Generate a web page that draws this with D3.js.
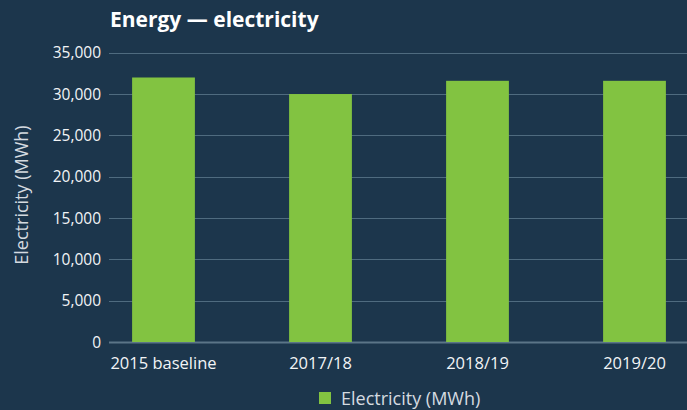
<!DOCTYPE html>
<html><head><meta charset="utf-8">
<script src="https://cdn.jsdelivr.net/npm/d3@7"></script>
<style>
html,body{margin:0;padding:0;background:#1c364c;}
svg{display:block;font-family:"Open Sans",sans-serif;}
</style></head><body>
<svg id="c" width="687" height="410"></svg>
<script>
const categories = ["2015 baseline","2017/18","2018/19","2019/20"];
const values = [32000, 30000, 31600, 31600];
const yTicks = [0,5000,10000,15000,20000,25000,30000,35000];
const seriesName = "Electricity (MWh)";
const title = "Energy — electricity";

const svg = d3.select("#c");
const W = 687, H = 410;
svg.append("rect").attr("width",W).attr("height",H).attr("fill","#1c364c");

const x = d3.scaleBand().domain(categories).range([85,713]).paddingInner(0.6).paddingOuter(0.3);
const y = d3.scaleLinear().domain([0,35000]).range([342,52.7]);
const fmt = d3.format(",");

// gridlines
svg.append("g").selectAll("line").data(yTicks).join("line")
  .attr("x1",109).attr("x2",W).attr("y1",d=>Math.round(y(d))+0.5).attr("y2",d=>Math.round(y(d))+0.5)
  .attr("stroke",d=>d===0?"#5b7587":"#4f6b7f").attr("stroke-width",d=>d===0?2:1);

// y tick labels
svg.append("g").selectAll("text").data(yTicks).join("text")
  .attr("x",101).attr("y",d=>y(d)).attr("dy","0.36em").attr("text-anchor","end")
  .attr("fill","#f2f4f6").attr("font-size",15.5).text(d=>fmt(d));

// bars
svg.append("g").selectAll("rect").data(values).join("rect")
  .attr("x",(d,i)=>x(categories[i])).attr("width",x.bandwidth())
  .attr("y",d=>y(d)).attr("height",d=>y(0)-y(d)).attr("fill","#82c341");

// x labels
svg.append("g").selectAll("text").data(categories).join("text")
  .attr("x",d=>x(d)+x.bandwidth()/2).attr("y",369).attr("text-anchor","middle")
  .attr("fill","#f2f4f6").attr("font-size",16.5).text(d=>d);

// y axis title
svg.append("text").attr("transform","translate(28,195) rotate(-90)").attr("text-anchor","middle")
  .attr("fill","#d5dbe0").attr("font-size",18).text(seriesName);

// title
svg.append("text").attr("x",110).attr("y",27).attr("fill","#ffffff").attr("font-size",21)
  .attr("font-weight","bold").text(title);

// legend
svg.append("rect").attr("x",319).attr("y",392).attr("width",12).attr("height",12).attr("fill","#82c341");
svg.append("text").attr("x",341).attr("y",405).attr("fill","#d5dbe0").attr("font-size",18).text(seriesName);
</script>
</body></html>
